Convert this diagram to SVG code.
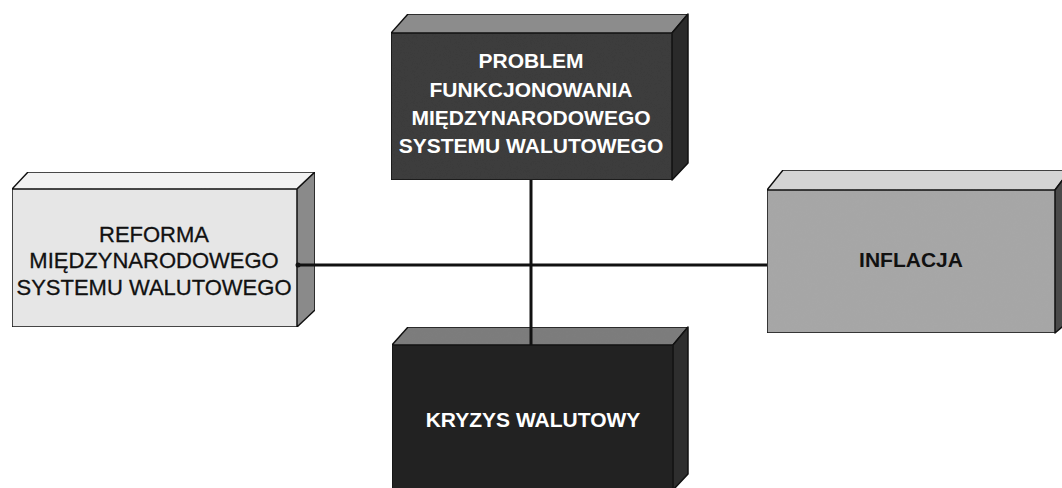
<svg xmlns="http://www.w3.org/2000/svg" width="1062" height="488" viewBox="0 0 1062 488">
<defs>
<style>
.edge{stroke:#111;stroke-width:1.5;stroke-linejoin:round}
.conn{stroke:#111;stroke-width:3;fill:none}
.tw{font-family:"Liberation Sans",Arial,sans-serif;font-weight:bold;font-size:21px;fill:#fff;text-anchor:middle}
.tb{font-family:"Liberation Sans",Arial,sans-serif;font-size:22px;fill:#111;text-anchor:middle;stroke:#111;stroke-width:0.3}
</style>
<filter id="grain" x="0" y="0" width="100%" height="100%">
<feTurbulence type="fractalNoise" baseFrequency="0.9" numOctaves="2" seed="3" result="n"/>
<feColorMatrix in="n" type="matrix" values="0 0 0 0 0.5  0 0 0 0 0.5  0 0 0 0 0.5  0 0 0 0.25 0" result="g"/>
<feComposite in="g" in2="SourceGraphic" operator="in" result="gc"/>
<feBlend in="gc" in2="SourceGraphic" mode="overlay"/>
</filter>
</defs>
<rect width="1062" height="488" fill="#fff"/>
<g id="node-problem">
<polygon class="edge" points="391,33 408,14 688,14 672,33" fill="#8c8c8c" filter="url(#grain)"/>
<polygon class="edge" points="672,33 688,14 688,163 672,180" fill="#2a2a2a"/>
<rect class="edge" x="391" y="33" width="281" height="147" fill="#3c3c3c" filter="url(#grain)"/>
<text class="tw" x="531" y="68">PROBLEM</text>
<text class="tw" x="531" y="97">FUNKCJONOWANIA</text>
<text class="tw" x="531" y="125">MIĘDZYNARODOWEGO</text>
<text class="tw" x="531" y="153">SYSTEMU WALUTOWEGO</text>
</g>
<g id="node-reforma">
<polygon class="edge" points="12,189 28,172 315,172 297,189" fill="#f2f2f2" filter="url(#grain)"/>
<polygon class="edge" points="297,189 315,172 315,310 297,327" fill="#8a8a8a" filter="url(#grain)"/>
<rect class="edge" x="12" y="189" width="285" height="138" fill="#e6e6e6" filter="url(#grain)"/>
<text class="tb" x="154" y="242">REFORMA</text>
<text class="tb" x="154" y="268">MIĘDZYNARODOWEGO</text>
<text class="tb" x="154" y="295">SYSTEMU WALUTOWEGO</text>
</g>
<g id="node-inflacja">
<polygon class="edge" points="767,190 783,170 1070,170 1055,190" fill="#d4d4d4" filter="url(#grain)"/>
<polygon class="edge" points="1055,190 1070,170 1070,320 1055,333" fill="#4a4a4a"/>
<rect class="edge" x="767" y="190" width="288" height="143" fill="#a6a6a6" filter="url(#grain)"/>
<text x="911" y="267" style="font-family:'Liberation Sans',Arial,sans-serif;font-weight:bold;font-size:21px;fill:#111;text-anchor:middle">INFLACJA</text>
</g>
<g id="node-kryzys">
<polygon class="edge" points="392,345 408,327 688,327 673,345" fill="#7c7c7c" filter="url(#grain)"/>
<polygon class="edge" points="673,345 688,327 688,474 673,490" fill="#2e2e2e"/>
<rect class="edge" x="392" y="345" width="281" height="150" fill="#202020" filter="url(#grain)"/>
<text class="tw" x="533" y="427">KRYZYS WALUTOWY</text>
</g>
<g id="connectors">
<line class="conn" x1="298" y1="265" x2="767" y2="265"/>
<line class="conn" x1="531" y1="180" x2="531" y2="345"/>
<circle cx="298" cy="265" r="2.5" fill="#111"/>
</g>
</svg>
